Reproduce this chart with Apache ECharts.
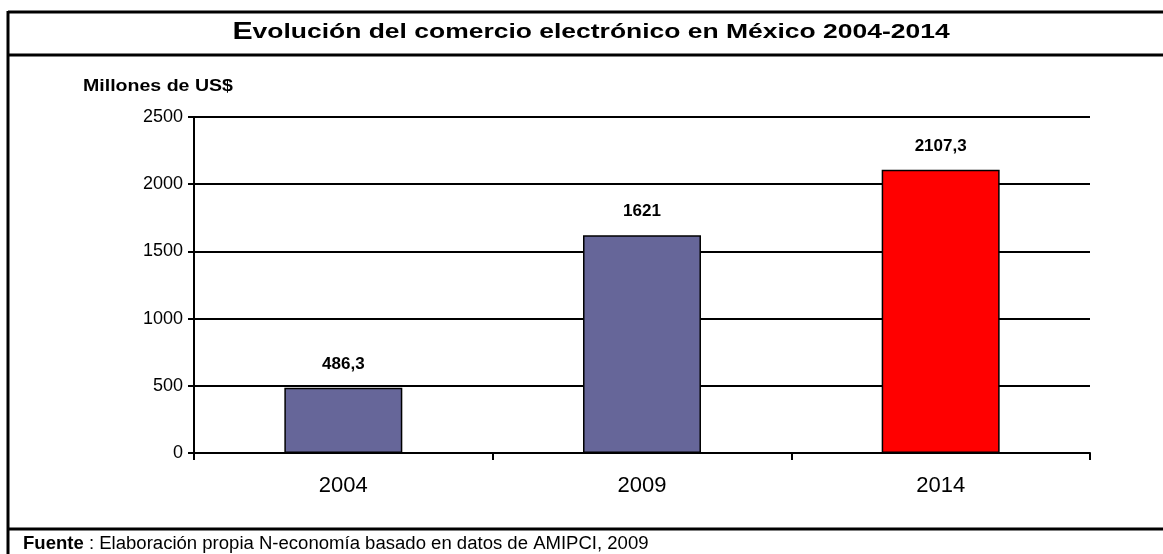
<!DOCTYPE html>
<html>
<head>
<meta charset="utf-8">
<script src="https://cdn.jsdelivr.net/npm/echarts@6/dist/echarts.min.js"></script>
<style>
  html, body { margin: 0; padding: 0; background: #fff; }
  #chart { width: 1163px; height: 554px; }
</style>
</head>
<body>
<div id="chart"></div>
<script>
// chart data
const years = ["2004", "2009", "2014"];
const ventas = [486.3, 1621, 2107.3];
const barColors = ["#666699", "#666699", "#ff0000"];
const yTicks = [0, 500, 1000, 1500, 2000, 2500];

const font = "Liberation Sans, Arial, sans-serif";
const chart = echarts.init(document.getElementById("chart"));

// decimal comma like the original
const fmt = (v) => String(v).replace(".", ",");

const rule = (x1, y1, x2, y2) => ({
  type: "line",
  shape: { x1, y1, x2, y2 },
  style: { stroke: "#000", lineWidth: 3 },
});

chart.setOption({
  backgroundColor: "#fff",
  animation: false,
  grid: { left: 194, right: 73, top: 117, bottom: 101 },
  xAxis: {
    type: "category",
    data: years,
    axisLine: { lineStyle: { color: "#000", width: 2 } },
    axisTick: { show: true, interval: 0, alignWithLabel: false, length: 7, lineStyle: { color: "#000", width: 2 } },
    axisLabel: { fontFamily: font, fontSize: 22, color: "#000", margin: 22 },
  },
  yAxis: {
    type: "value",
    min: yTicks[0],
    max: yTicks[yTicks.length - 1],
    interval: 500,
    axisLine: { show: true, lineStyle: { color: "#000", width: 2 } },
    axisTick: { show: true, length: 6, lineStyle: { color: "#000", width: 2 } },
    axisLabel: { fontFamily: font, fontSize: 18, color: "#000", margin: 11, formatter: (v) => String(v) },
    splitLine: { lineStyle: { color: "#000", width: 2 } },
  },
  series: [
    {
      type: "bar",
      barWidth: "39.5%",
      data: ventas.map((v, i) => ({
        value: v,
        itemStyle: { color: barColors[i], borderColor: "#000", borderWidth: 1.5 },
      })),
      label: {
        show: true,
        position: "top",
        distance: 15,
        formatter: (p) => fmt(p.value),
        fontFamily: font,
        fontWeight: "bold",
        fontSize: 17,
        color: "#000",
      },
    },
  ],
  graphic: [
    rule(8, 11, 8, 554),
    rule(8, 12, 1163, 12),
    rule(8, 55, 1163, 55),
    rule(8, 529, 1163, 529),
    {
      type: "text",
      x: 591,
      y: 32,
      scaleX: 1.26,
      style: {
        text: "{big|E}{t|volución del comercio electrónico en México 2004-2014}",
        align: "center",
        verticalAlign: "middle",
        rich: {
          big: { fontFamily: font, fontWeight: "bold", fontSize: 24, fill: "#000" },
          t: { fontFamily: font, fontWeight: "bold", fontSize: 21, fill: "#000" },
        },
      },
    },
    {
      type: "text",
      x: 83,
      y: 86,
      scaleX: 1.15,
      style: {
        text: "Millones de US$",
        fontFamily: font,
        fontWeight: "bold",
        fontSize: 17,
        fill: "#000",
        verticalAlign: "middle",
      },
    },
    {
      type: "text",
      x: 23,
      y: 544,
      scaleX: 1.03,
      style: {
        text: "{b|Fuente} : Elaboración propia N-economía basado en datos de AMIPCI, 2009",
        verticalAlign: "middle",
        fontFamily: font,
        fontSize: 18,
        fontWeight: "normal",
        fill: "#000",
        rich: { b: { fontFamily: font, fontSize: 18, fontWeight: "bold", fill: "#000" } },
      },
    },
  ],
});
</script>
</body>
</html>
